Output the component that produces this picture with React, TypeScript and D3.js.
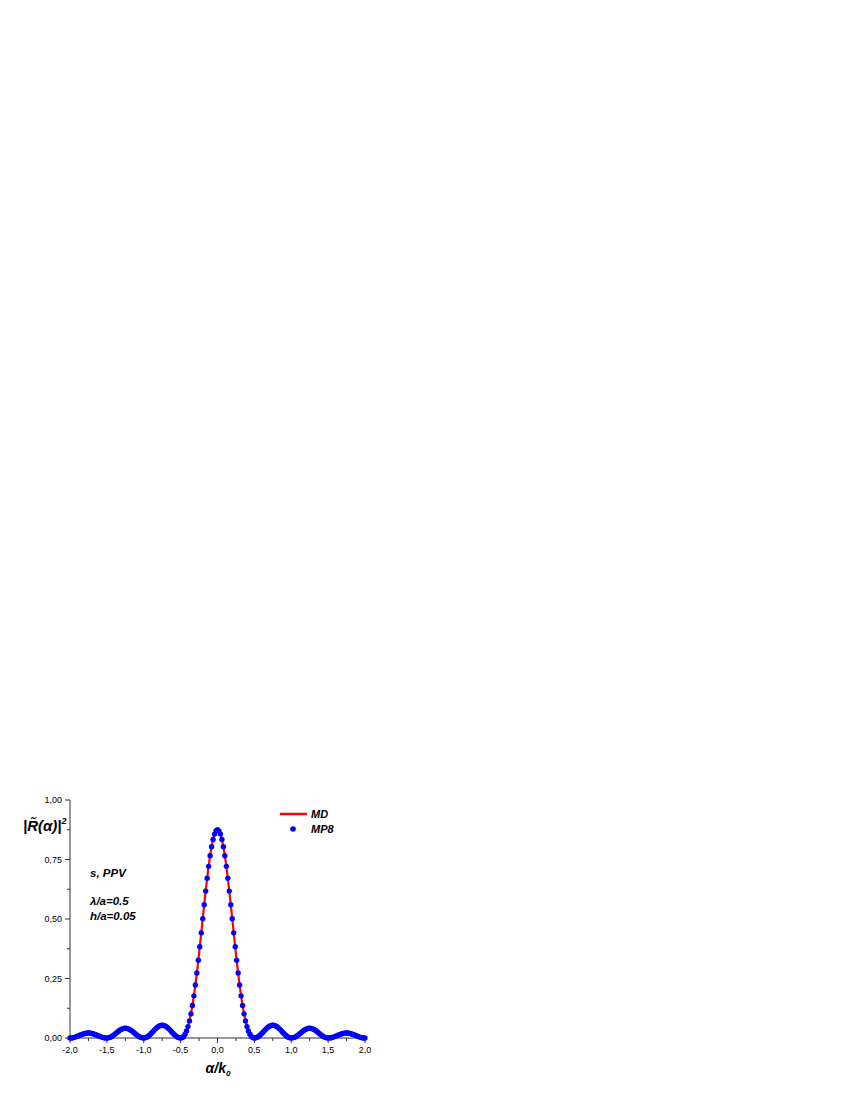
import React from "react";
import * as d3 from "d3";

// α/k0 grid (step 0.02)
const alphaValues: number[] = [
  -2.0, -1.98, -1.96, -1.94, -1.92, -1.9, -1.88, -1.86, -1.84, -1.82, -1.8, -1.78, -1.76, -1.74, -1.72, -1.7, -1.68, -1.66, -1.64, -1.62, -1.6, -1.58, -1.56, -1.54, -1.52,
  -1.5, -1.48, -1.46, -1.44, -1.42, -1.4, -1.38, -1.36, -1.34, -1.32, -1.3, -1.28, -1.26, -1.24, -1.22, -1.2, -1.18, -1.16, -1.14, -1.12, -1.1, -1.08, -1.06, -1.04, -1.02,
  -1.0, -0.98, -0.96, -0.94, -0.92, -0.9, -0.88, -0.86, -0.84, -0.82, -0.8, -0.78, -0.76, -0.74, -0.72, -0.7, -0.68, -0.66, -0.64, -0.62, -0.6, -0.58, -0.56, -0.54, -0.52,
  -0.5, -0.48, -0.46, -0.44, -0.42, -0.4, -0.38, -0.36, -0.34, -0.32, -0.3, -0.28, -0.26, -0.24, -0.22, -0.2, -0.18, -0.16, -0.14, -0.12, -0.1, -0.08, -0.06, -0.04, -0.02,
  0.0,
  0.02, 0.04, 0.06, 0.08, 0.1, 0.12, 0.14, 0.16, 0.18, 0.2, 0.22, 0.24, 0.26, 0.28, 0.3, 0.32, 0.34, 0.36, 0.38, 0.4, 0.42, 0.44, 0.46, 0.48, 0.5,
  0.52, 0.54, 0.56, 0.58, 0.6, 0.62, 0.64, 0.66, 0.68, 0.7, 0.72, 0.74, 0.76, 0.78, 0.8, 0.82, 0.84, 0.86, 0.88, 0.9, 0.92, 0.94, 0.96, 0.98, 1.0,
  1.02, 1.04, 1.06, 1.08, 1.1, 1.12, 1.14, 1.16, 1.18, 1.2, 1.22, 1.24, 1.26, 1.28, 1.3, 1.32, 1.34, 1.36, 1.38, 1.4, 1.42, 1.44, 1.46, 1.48, 1.5,
  1.52, 1.54, 1.56, 1.58, 1.6, 1.62, 1.64, 1.66, 1.68, 1.7, 1.72, 1.74, 1.76, 1.78, 1.8, 1.82, 1.84, 1.86, 1.88, 1.9, 1.92, 1.94, 1.96, 1.98, 2.0,
];

// |R(α)|^2 — MD curve
const mdValues: number[] = [
  0, 0.0003, 0.0013, 0.0028, 0.0049, 0.0073, 0.0098, 0.0125, 0.015, 0.0172, 0.019, 0.0203, 0.0209, 0.0209, 0.0203, 0.019, 0.0172, 0.015, 0.0125, 0.0098, 0.0073, 0.0049, 0.0028, 0.0013, 0.0003,
  0, 0.0006, 0.0025, 0.0056, 0.0095, 0.0142, 0.0192, 0.0243, 0.0292, 0.0336, 0.0371, 0.0396, 0.0408, 0.0408, 0.0396, 0.0371, 0.0336, 0.0292, 0.0243, 0.0192, 0.0142, 0.0095, 0.0056, 0.0025, 0.0006,
  0, 0.0008, 0.0033, 0.0073, 0.0125, 0.0187, 0.0253, 0.0321, 0.0385, 0.0442, 0.0488, 0.0521, 0.0538, 0.0538, 0.0521, 0.0488, 0.0442, 0.0385, 0.0321, 0.0253, 0.0187, 0.0125, 0.0073, 0.0033, 0.0008,
  0, 0.0015, 0.0065, 0.0155, 0.0292, 0.0479, 0.0719, 0.1015, 0.1367, 0.1772, 0.2228, 0.2728, 0.3266, 0.3833, 0.4419, 0.5012, 0.5601, 0.6172, 0.6713, 0.7213, 0.7657, 0.8038, 0.8343, 0.8567, 0.8704,
  0.875,
  0.8704, 0.8567, 0.8343, 0.8038, 0.7657, 0.7213, 0.6713, 0.6172, 0.5601, 0.5012, 0.4419, 0.3833, 0.3266, 0.2728, 0.2228, 0.1772, 0.1367, 0.1015, 0.0719, 0.0479, 0.0292, 0.0155, 0.0065, 0.0015, 0,
  0.0008, 0.0033, 0.0073, 0.0125, 0.0187, 0.0253, 0.0321, 0.0385, 0.0442, 0.0488, 0.0521, 0.0538, 0.0538, 0.0521, 0.0488, 0.0442, 0.0385, 0.0321, 0.0253, 0.0187, 0.0125, 0.0073, 0.0033, 0.0008, 0,
  0.0006, 0.0025, 0.0056, 0.0095, 0.0142, 0.0192, 0.0243, 0.0292, 0.0336, 0.0371, 0.0396, 0.0408, 0.0408, 0.0396, 0.0371, 0.0336, 0.0292, 0.0243, 0.0192, 0.0142, 0.0095, 0.0056, 0.0025, 0.0006, 0,
  0.0003, 0.0013, 0.0028, 0.0049, 0.0073, 0.0098, 0.0125, 0.015, 0.0172, 0.019, 0.0203, 0.0209, 0.0209, 0.0203, 0.019, 0.0172, 0.015, 0.0125, 0.0098, 0.0073, 0.0049, 0.0028, 0.0013, 0.0003, 0,
];

// MP8 points (coincide with MD)
const mp8Values: number[] = mdValues.slice();

const xMajorTicks = [-2.0, -1.5, -1.0, -0.5, 0.0, 0.5, 1.0, 1.5, 2.0];
const xMinorTicks = [-1.75, -1.25, -0.75, -0.25, 0.25, 0.75, 1.25, 1.75];
const yMajorTicks = [0, 0.25, 0.5, 0.75, 1.0];
const yMinorTicks = [0.125, 0.375, 0.625, 0.875];

const legendItems = ["MD", "MP8"];
const annotations = ["s, PPV", "λ/a=0.5", "h/a=0.05"];

const FONT = "'Liberation Sans', Arial, Helvetica, sans-serif";

export default function App() {
  const left = 70, right = 365, top = 800, bottom = 1038;
  const x = d3.scaleLinear().domain([-2, 2]).range([left, right]);
  const y = d3.scaleLinear().domain([0, 1]).range([bottom, top]);
  const fmt = (v: number, d: number) => v.toFixed(d).replace(".", ",");
  const line = d3
    .line<number>()
    .x((_, i) => x(alphaValues[i]))
    .y((v) => y(v));
  const axisColor = "#333";

  return (
    <svg
      width={850}
      height={1100}
      style={{ position: "absolute", left: 0, top: 0, background: "#fff" }}
      fontFamily={FONT}
    >
      {/* axes */}
      <line x1={left} x2={left} y1={top} y2={bottom} stroke={axisColor} strokeWidth={1} />
      <line x1={left} x2={right} y1={bottom} y2={bottom} stroke={axisColor} strokeWidth={1} />
      {yMajorTicks.map((t) => (
        <g key={"ym" + t}>
          <line x1={left - 5} x2={left} y1={y(t)} y2={y(t)} stroke={axisColor} />
          <text x={left - 8} y={y(t) + 3} fontSize={9} textAnchor="end" fill="#000">
            {fmt(t, 2)}
          </text>
        </g>
      ))}
      {yMinorTicks.map((t) => (
        <line key={"yn" + t} x1={left - 3} x2={left} y1={y(t)} y2={y(t)} stroke={axisColor} />
      ))}
      {xMajorTicks.map((t) => (
        <g key={"xm" + t}>
          <line x1={x(t)} x2={x(t)} y1={bottom} y2={bottom + 5} stroke={axisColor} />
          <text x={x(t)} y={bottom + 15} fontSize={9} textAnchor="middle" fill="#000">
            {fmt(t, 1)}
          </text>
        </g>
      ))}
      {xMinorTicks.map((t) => (
        <line key={"xn" + t} x1={x(t)} x2={x(t)} y1={bottom} y2={bottom + 3} stroke={axisColor} />
      ))}

      {/* axis titles */}
      <text x={218} y={1073} fontSize={14} fontWeight="bold" fontStyle="italic" textAnchor="middle">
        α/k<tspan fontSize={8} dy={3}>0</tspan>
      </text>
      <text x={23} y={831} fontSize={15} fontWeight="bold" fontStyle="italic">
        |R̃(α)|<tspan fontSize={9} dy={-7}>2</tspan>
      </text>

      {/* data */}
      <path d={line(mdValues) || ""} fill="none" stroke="#ff0000" strokeWidth={2.2} />
      {mp8Values.map((v, i) => (
        <circle key={i} cx={x(alphaValues[i])} cy={y(v)} r={2.7} fill="#0000ff" />
      ))}

      {/* legend */}
      <line x1={280} x2={307} y1={814} y2={814} stroke="#ff0000" strokeWidth={2.5} />
      <text x={311} y={818} fontSize={11} fontWeight="bold" fontStyle="italic">
        {legendItems[0]}
      </text>
      <circle cx={293} cy={829} r={2.8} fill="#0000ff" />
      <text x={311} y={833} fontSize={11} fontWeight="bold" fontStyle="italic">
        {legendItems[1]}
      </text>

      {/* annotations */}
      <text x={90} y={877} fontSize={11.5} fontWeight="bold" fontStyle="italic">
        {annotations[0]}
      </text>
      <text x={90} y={905} fontSize={11.5} fontWeight="bold" fontStyle="italic">
        {annotations[1]}
      </text>
      <text x={90} y={920} fontSize={11.5} fontWeight="bold" fontStyle="italic">
        {annotations[2]}
      </text>
    </svg>
  );
}
